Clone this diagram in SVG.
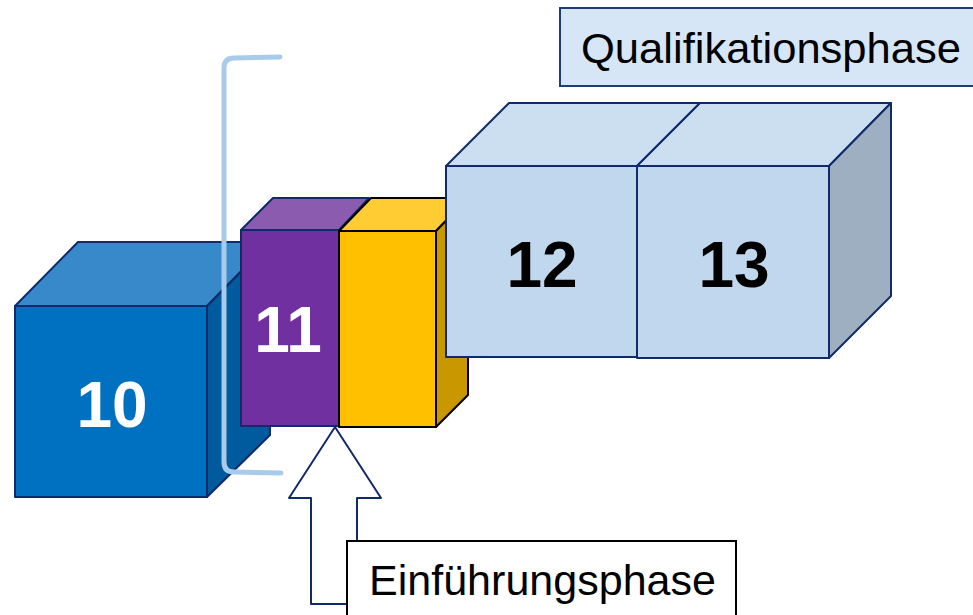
<svg xmlns="http://www.w3.org/2000/svg" width="973" height="615" viewBox="0 0 973 615">
<style>
.nv{stroke:#102B6A;stroke-width:2;stroke-linejoin:round}
.bk{stroke:#000;stroke-width:2;stroke-linejoin:round}
.num{font-family:"Liberation Sans",Arial,sans-serif;font-weight:bold;font-size:64px;text-anchor:middle}
.lbl{font-family:"Liberation Sans",Arial,sans-serif;font-size:42px}
</style>
<rect width="973" height="615" fill="#fff"/>
<g id="cube10">
<polygon class="nv" fill="#3789C9" points="15,306 78,242 270,242 207,306"/>
<polygon class="nv" fill="#005A9E" points="207,306 270,242 270,435 207,497"/>
<rect class="nv" fill="#0070C0" x="15" y="306" width="192" height="191"/>
<text class="num" x="112" y="427" fill="#fff">10</text>
</g>
<g id="bracket">
<path d="M280,57 L234,58 Q224,58 224,68 L224,462 Q224,472 234,472 L281,473" fill="none" stroke="#A8CBEC" stroke-width="5" stroke-linecap="round"/>
</g>
<g id="block11">
<polygon class="nv" fill="#8B5BAF" points="241,230 273,198 369,198 339,230"/>
<rect class="nv" fill="#7030A0" x="241" y="230" width="98" height="196"/>
<text class="num" x="288" y="352" fill="#fff">11</text>
</g>
<g id="blockYellow">
<polygon class="bk" fill="#FFCC33" points="339,231 371,198 468,198 436,231"/>
<polygon class="bk" fill="#C99700" points="436,231 468,198 468,395 436,427"/>
<rect class="bk" fill="#FFC000" x="339" y="231" width="97" height="196"/>
</g>
<g id="cube12">
<polygon class="nv" fill="#CCDFF1" points="446,166 509,103 700,103 637,166"/>
<rect class="nv" fill="#C0D7EE" x="446" y="166" width="191" height="191"/>
<text class="num" x="542" y="287" fill="#000">12</text>
</g>
<g id="cube13">
<polygon class="nv" fill="#CCDFF1" points="637,166 700,103 891,103 829,166"/>
<polygon class="nv" fill="#9DAFC0" points="829,166 891,103 891,296 829,358"/>
<rect class="nv" fill="#C0D7EE" x="637" y="166" width="192" height="192"/>
<text class="num" x="734" y="287" fill="#000">13</text>
</g>
<g id="connectors">
<polygon class="nv" fill="#fff" points="335,427 381,498 357,498 357,604 311,604 311,498 289,498"/>
</g>
<g id="qualifikationsphase">
<rect x="560" y="8" width="420" height="78" fill="#D6E6F6" stroke="#1F3C7A" stroke-width="2"/>
<text class="lbl" x="581" y="63" textLength="380" lengthAdjust="spacingAndGlyphs" fill="#000">Qualifikationsphase</text>
</g>
<g id="einfuehrungsphase">
<rect x="347" y="541" width="389" height="84" fill="#fff" stroke="#000" stroke-width="2"/>
<text class="lbl" x="369" y="595" textLength="347" lengthAdjust="spacingAndGlyphs" fill="#000">Einführungsphase</text>
</g>
</svg>
